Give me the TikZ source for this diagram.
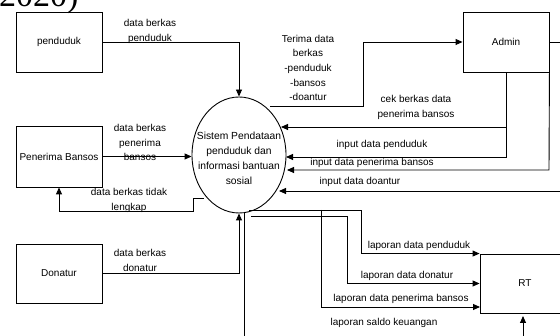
\documentclass[tikz,border=0pt]{standalone}
\usepackage{fontspec}
\setmainfont{Liberation Sans}
\newfontfamily\serifbig{Liberation Serif}
\usetikzlibrary{shapes.geometric,arrows.meta}
\begin{document}
\begin{tikzpicture}[x=1pt,y=-1pt,
  entity/.style={draw,line width=0.9pt,minimum width=86pt,minimum height=60pt,inner sep=0pt,font=\fontsize{10}{12}\selectfont},
  lbl/.style={inner sep=0pt,align=center,font=\fontsize{10}{14.6}\selectfont},
  flow/.style={line width=0.9pt},
  arr/.style={flow,-{Triangle[length=7pt,width=6pt]}}]
\useasboundingbox (0,0) rectangle (560,336);
% cropped caption fragment
\node[anchor=base west,inner sep=0pt,font=\serifbig\fontsize{34}{34}\selectfont] (cap) at (-1,7) {2020)};
% entities
\node[entity] (pend) at (59,42) {penduduk};
\node[entity,minimum height=61pt] (pb) at (59,156.5) {Penerima Bansos};
\node[entity,minimum height=59pt] (don) at (59,273.5) {Donatur};
\node[entity] (admin) at (506,42) {Admin};
\node[entity,minimum width=90pt,minimum height=59pt] (rt) at (525,283.5) {RT};
% process
\node[draw,ellipse,line width=0.9pt,minimum width=94pt,minimum height=116pt,inner sep=0pt] (sys) at (239,155) {};
\node[lbl,font=\fontsize{10.3}{15}\selectfont] (systxt) at (239,158) {Sistem Pendataan\\penduduk dan\\informasi bantuan\\sosial};
% connector end points
\coordinate (s1) at (270,106);
\coordinate (e2) at (281,127);
\coordinate (e1) at (286,157);
\coordinate (e3) at (287,170);
\coordinate (e4) at (279,191);
\coordinate (o1) at (572,191);
\coordinate (o2) at (572,42);
\coordinate (e6) at (204,198);
\coordinate (eA) at (249,210);
\coordinate (eB) at (251,216);
\coordinate (eS) at (244,212);
\coordinate (rtC) at (480,307);
\coordinate (rtS) at (523,316);
% flows
\draw[arr] (pend.east) -| (sys.north);
\draw[arr] (s1) -- (363,106) |- (admin.west);
\draw[arr] (admin.south) -- (506,157) -- (e1);
\draw[arr] (506,127) -- (e2);
\draw[arr] (admin.south east) -- (549,170) -- (e3);
\draw[flow] (admin.east) -- (o2);
\draw[arr] (o1) -- (e4);
\draw[arr] (pb.east) -- (pb.east -| sys.west);
\draw[arr] (e6) -- (193,198) -- (193,211) -| (pb.south);
\draw[arr] (don.east) -| (sys.south);
\draw[arr] (eA) -- (361,210) |- (rt.north west);
\draw[arr] (321,210) |- (rtC);
\draw[arr] (eB) -- (347,216) |- (rt.west);
\draw[arr] (eS) -- (244,346) -| (rtS);
% labels
\node[lbl] (l1) at (150,31.5) {data berkas\\penduduk};
\node[lbl] (l2) at (308,68) {Terima data\\berkas\\-penduduk\\-bansos\\-doantur};
\node[lbl] (l3) at (416,107.5) {cek berkas data\\penerima bansos};
\node[lbl] (l4) at (382,145) {input data penduduk};
\node[lbl] (l5) at (372,163) {input data penerima bansos};
\node[lbl] (l6) at (360,182) {input data doantur};
\node[lbl] (l7) at (140,142.5) {data berkas\\penerima\\bansos};
\node[lbl] (l8) at (129,200.5) {data berkas tidak\\lengkap};
\node[lbl] (l9) at (140,260.5) {data berkas\\donatur};
\node[lbl] (l10) at (419,246) {laporan data penduduk};
\node[lbl] (l11) at (407,276) {laporan data donatur};
\node[lbl] (l12) at (401,299) {laporan data penerima bansos};
\node[lbl] (l13) at (384,323) {laporan saldo keuangan};
\end{tikzpicture}
\end{document}
